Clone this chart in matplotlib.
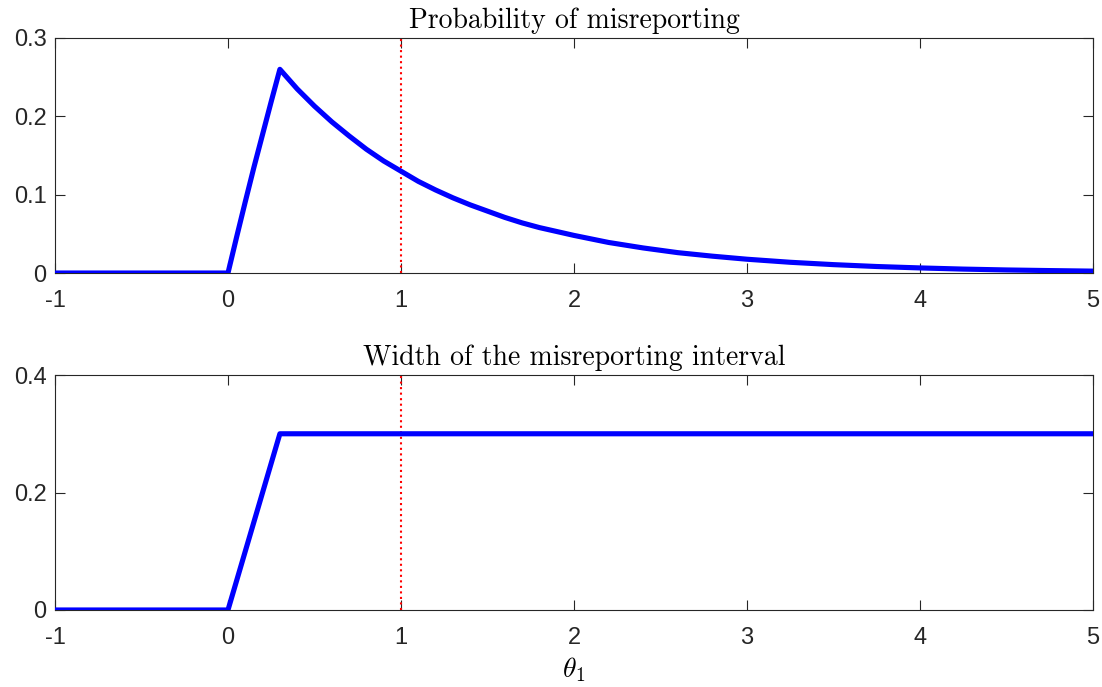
import numpy as np
import matplotlib.pyplot as plt

plt.rcParams['font.family'] = ['Liberation Sans', 'DejaVu Sans']
plt.rcParams['axes.unicode_minus'] = False
plt.rcParams['mathtext.fontset'] = 'cm'

# probability of misreporting vs theta_1
theta_prob = [-1.0, 0.0, 0.05, 0.1, 0.15, 0.2, 0.25, 0.3, 0.4, 0.5, 0.6, 0.7,
              0.8, 0.9, 1.0, 1.1, 1.2, 1.3, 1.4, 1.5, 1.6, 1.7, 1.8, 1.9, 2.0,
              2.2, 2.4, 2.6, 2.8, 3.0, 3.25, 3.5, 3.75, 4.0, 4.25, 4.5, 4.75, 5.0]
prob = [0.0, 0.0, 0.046, 0.091, 0.135, 0.177, 0.219, 0.260, 0.235, 0.213, 0.193,
        0.175, 0.158, 0.143, 0.130, 0.117, 0.106, 0.096, 0.087, 0.079, 0.071,
        0.064, 0.058, 0.053, 0.048, 0.039, 0.032, 0.026, 0.0215, 0.0176,
        0.0137, 0.0107, 0.0083, 0.0065, 0.0050, 0.0039, 0.0031, 0.0024]

# width of the misreporting interval
theta_width = [-1.0, 0.0, 0.3, 5.0]
width = [0.0, 0.0, 0.3, 0.3]

theta_cut = 1.0

fig = plt.figure(figsize=(11.02, 6.87), dpi=100)
ax1 = fig.add_axes([0.0499, 0.6026, 0.9419, 0.3421])
ax2 = fig.add_axes([0.0499, 0.1121, 0.9419, 0.3420])

edge = '#262626'
title_font = dict(family='cmr10', size=20, color='black')

for ax, x, y, ylim, yt, ttl in [
        (ax1, theta_prob, prob, (0, 0.3), [0, 0.1, 0.2, 0.3], 'Probability of misreporting'),
        (ax2, theta_width, width, (0, 0.4), [0, 0.2, 0.4], 'Width of the misreporting interval')]:
    ax.plot(x, y, color='#0000ff', lw=3.7, solid_capstyle='round', solid_joinstyle='round', zorder=3)
    ax.axvline(theta_cut, color='red', ls=':', lw=1.5, zorder=2)
    ax.set_xlim(-1, 5)
    ax.set_ylim(*ylim)
    ax.set_xticks([-1, 0, 1, 2, 3, 4, 5])
    ax.set_yticks(yt)
    ax.set_yticklabels([('%g' % v) for v in yt])
    ax.tick_params(direction='in', length=7, width=0.8, top=True, right=True,
                   labelsize=17, colors=edge)
    ax.tick_params(axis='x', pad=12)
    ax.tick_params(axis='y', pad=6)
    for s in ax.spines.values():
        s.set_color(edge)
        s.set_linewidth(0.8)
    ax.set_title(ttl, fontdict=title_font, pad=7)

ax2.set_xlabel(r'$\theta_1$', fontsize=20, labelpad=5)

fig.savefig('out.png', dpi=100)
